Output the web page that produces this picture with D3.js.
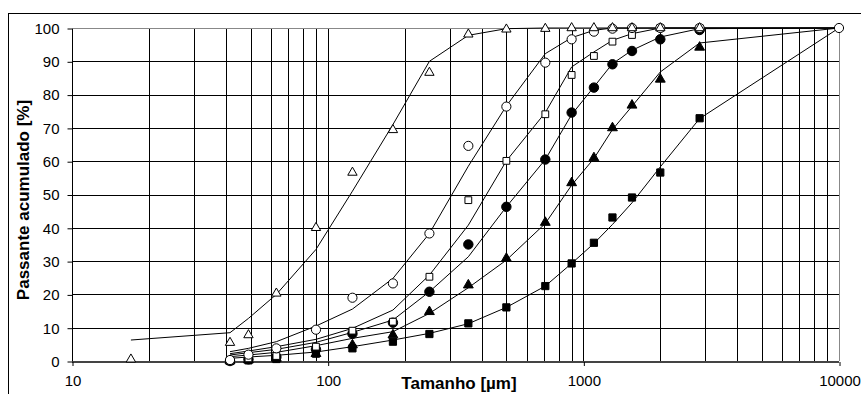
<!DOCTYPE html>
<meta charset="utf-8">
<style>

body {
  margin: 0;
  background: #fff;
}

text {
  font-family: "Liberation Sans", Arial, sans-serif;
  fill: #000;
}

.grid line {
  stroke: #000;
  stroke-width: 1px;
  shape-rendering: crispEdges;
}

.fit {
  fill: none;
  stroke: #000;
  stroke-width: 1px;
}

</style>
<body>
<script src="https://cdn.jsdelivr.net/npm/d3@7"></script>
<script>

var width = 861,
    height = 394;

// sieve sizes [µm]
var sizes = [17, 41.5, 49, 63, 90, 125, 180, 250, 355, 500, 710, 900, 1100, 1300, 1550, 2000, 2850, 10000];

// measured passing [%] (null = no point)
var openTri  = [0.5, 5.5, 7.8, 20.3, 40, 56.6, 69.4, 86.6, 98.1, 99.6, 99.8, 100, 100, 100, 100, 100, 100, null];
var openCirc = [null, 0.3, 1.9, 3.8, 9.4, 19.0, 23.3, 38.3, 64.6, 76.4, 89.6, 96.6, 98.9, 99.8, 100, 100, 100, 100];
var openSq   = [null, 0.1, 0.8, 1.5, 4.3, 9.1, 11.8, 25.3, 48.3, 60.1, 74.1, 85.9, 91.6, 95.9, 97.9, 100, 100, null];
var fillCirc = [null, 0, 0.5, 1.2, 3.5, 8.2, 11.5, 20.8, 35.0, 46.3, 60.5, 74.6, 82.1, 89.1, 93.1, 96.6, 99.4, null];
var fillTri  = [null, 0, 0.3, 0.8, 2.2, 4.8, 7.8, 14.8, 22.8, 30.8, 41.6, 53.5, 61, 70, 76.8, 84.6, 94.2, null];
var fillSq   = [null, 0, 0.2, 0.6, 2.2, 3.8, 5.8, 8.1, 11.3, 16.1, 22.5, 29.3, 35.5, 43.1, 49.1, 56.6, 72.9, null];

// model curves [%]
var fitTri  = [6.3, 8.5, 12.8, 20, 33.5, 51, 71, 90, 97.8, 99.8, 100, 100, 100, 100, 100, 100, 100, 100];
var fitCirc = [null, 2.8, 3.8, 5.8, 10.5, 15.6, 24.8, 38.3, 58.5, 76.6, 92.3, 97.1, 99.3, 100, 100, 100, 100, 100];
var fitSq   = [null, 2.2, 3.0, 4.3, 6.5, 9.8, 15.3, 25.8, 40.8, 60.1, 74.6, 88.3, 92.8, 96.3, 98.3, 100, 100, 100];
var fitFC   = [null, 1.8, 2.5, 3.5, 5.6, 8.6, 12.3, 20.8, 31.3, 46.3, 60.5, 74.0, 82.3, 89.3, 93.3, 97.3, 99.8, 100];
var fitFT   = [null, 1.3, 1.8, 2.6, 4.6, 6.8, 8.8, 14.3, 22, 30.3, 41.3, 52.8, 60.8, 69.5, 76.5, 86.8, 95.5, 100];
var fitFS   = [null, 0.8, 1.2, 1.7, 2.7, 4.3, 6.3, 8.3, 11.2, 16.1, 22.5, 29.3, 35.3, 41, 47.5, 58.3, 72.8, 100];

var yTicks = [0, 10, 20, 30, 40, 50, 60, 70, 80, 90, 100];
var xTicks = [10, 100, 1000, 10000];

var x = d3.scaleLog().domain([10, 10000]).range([72, 839]);
var y = d3.scaleLinear().domain([0, 100]).range([361, 28]);

var svg = d3.select("body").append("svg")
    .attr("width", width)
    .attr("height", height);

// outer frame
svg.append("rect")
    .attr("x", 8.5).attr("y", 13.5)
    .attr("width", 900).attr("height", 500)
    .attr("fill", "none")
    .attr("stroke", "#000");

// grid
var grid = svg.append("g").attr("class", "grid");

grid.selectAll(".v")
    .data(x.ticks())
    .enter().append("line")
    .attr("x1", function(d) { return Math.round(x(d)) + 0.5; })
    .attr("x2", function(d) { return Math.round(x(d)) + 0.5; })
    .attr("y1", y(100)).attr("y2", y(0))
    .style("stroke", function(d) { return d === 10000 ? "#888" : null; });

grid.selectAll(".h")
    .data(yTicks)
    .enter().append("line")
    .attr("x1", x(10)).attr("x2", x(10000))
    .attr("y1", function(d) { return Math.round(y(d)) + 0.5; })
    .attr("y2", function(d) { return Math.round(y(d)) + 0.5; })
    .style("stroke-width", function(d) { return d === 0 ? "2px" : null; })
    .style("stroke", function(d) { return d === 100 ? "#888" : d === 0 ? "#444" : null; });

// axes
var yAxis = svg.append("g")
    .attr("transform", "translate(72.5,0.5)")
    .call(d3.axisLeft(y).tickValues(yTicks).tickSize(5).tickPadding(8));

var xAxis = svg.append("g")
    .attr("transform", "translate(0.5,361)")
    .call(d3.axisBottom(x).tickValues(xTicks).tickFormat(d3.format("d")).tickSize(5).tickPadding(9));

[yAxis, xAxis].forEach(function(g) {
  g.select(".domain").remove();
  g.selectAll(".tick line").attr("stroke", "#000");
  g.selectAll("text")
      .attr("fill", "#000")
      .style("font-family", "'Liberation Sans', Arial, sans-serif")
      .style("font-size", "15px");
});

xAxis.selectAll(".tick line").attr("y1", 1);

// axis titles
svg.append("text")
    .attr("x", 459).attr("y", 389)
    .attr("text-anchor", "middle")
    .style("font-size", "17px")
    .style("font-weight", "bold")
    .text("Tamanho [µm]");

svg.append("text")
    .attr("transform", "translate(28.5,200) rotate(-90)")
    .attr("text-anchor", "middle")
    .style("font-size", "17px")
    .style("font-weight", "bold")
    .text("Passante acumulado [%]");

// model lines
var line = d3.line()
    .defined(function(d) { return d[1] != null; })
    .x(function(d) { return x(d[0]); })
    .y(function(d) { return y(d[1]); });

var fits = [fitTri, fitCirc, fitSq, fitFC, fitFT, fitFS];

svg.selectAll(".fit")
    .data(fits)
    .enter().append("path")
    .attr("class", "fit")
    .attr("d", function(vals) {
      return line(sizes.map(function(s, i) { return [s, vals[i]]; }));
    });

// markers, drawn bottom to top
var series = [
  {vals: fillSq,   type: d3.symbolSquare,   size: 52, fill: "#000"},
  {vals: fillTri,  type: d3.symbolTriangle, size: 42, fill: "#000"},
  {vals: fillCirc, type: d3.symbolCircle,   size: 70, fill: "#000"},
  {vals: openSq,   type: d3.symbolSquare,   size: 46, fill: "#fff"},
  {vals: openCirc, type: d3.symbolCircle,   size: 66, fill: "#fff"},
  {vals: openTri,  type: d3.symbolTriangle, size: 38, fill: "#fff"}
];

series.forEach(function(s) {
  var pts = sizes.map(function(v, i) { return [v, s.vals[i]]; })
      .filter(function(d) { return d[1] != null; });
  svg.append("g").selectAll("path")
      .data(pts)
      .enter().append("path")
      .attr("transform", function(d) { return "translate(" + x(d[0]) + "," + y(d[1]) + ")"; })
      .attr("d", d3.symbol().type(s.type).size(s.size))
      .attr("fill", s.fill)
      .attr("stroke", "#000")
      .attr("stroke-width", 1);
});

</script>
